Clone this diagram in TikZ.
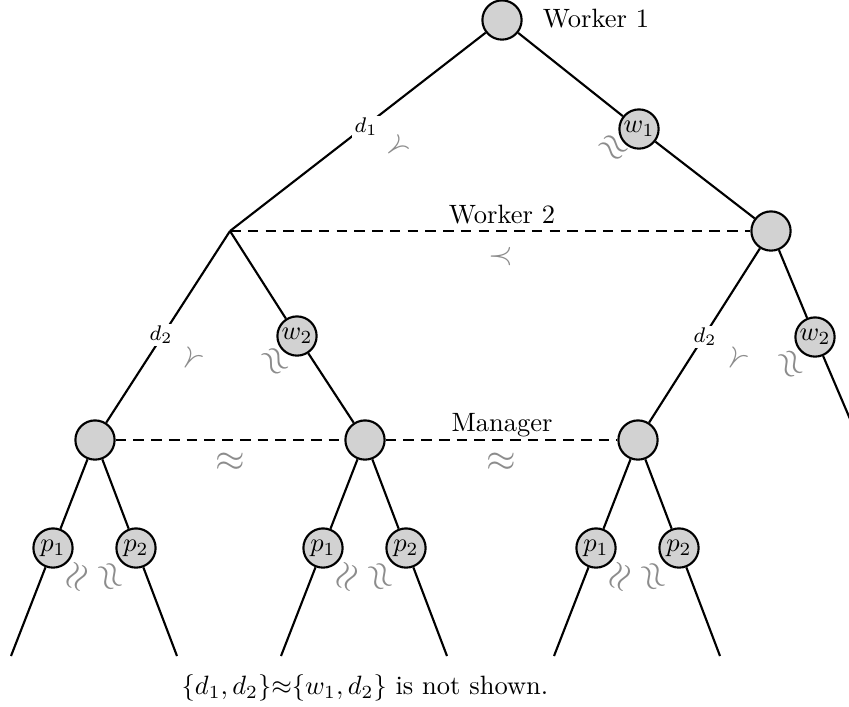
\documentclass[tikz,border=0pt]{standalone}
\usepackage{amsmath}
\begin{document}
\begin{tikzpicture}[x=0.3774pt,y=-0.3774pt,
  st/.style={circle,draw,thick,fill=gray!35,minimum size=14.8pt,inner sep=0pt},
  edge/.style={thick},
  dedge/.style={thick,dash pattern=on 4pt off 2.7pt},
  dl/.style={font=\footnotesize,fill=white,inner sep=1pt},
  lab/.style={inner sep=1pt},
  pr/.style={text=black!45,inner sep=0pt,font=\large},
  ap/.style={text=black!45,inner sep=0pt,font=\Large}]
\useasboundingbox (0,0) rectangle (849,706);
\clip (0,0) rectangle (849,706);
% nodes
\node[st] (R) at (502,20) {};
\coordinate (D) at (230,231);
\node[st] (W2) at (771,231) {};
\node[st] (M1) at (95,440) {};
\node[st] (M2) at (365,440) {};
\node[st] (M3) at (638,440) {};
\coordinate (X) at (859,440);
\node[st] (w1) at (639,129) {$w_1$};
\node[st] (w2a) at (297,336) {$w_2$};
\node[st] (w2b) at (815,337) {$w_2$};
\node[st] (p11) at (53,548) {$p_1$};
\node[st] (p12) at (136,548) {$p_2$};
\node[st] (p21) at (323,548) {$p_1$};
\node[st] (p22) at (406,548) {$p_2$};
\node[st] (p31) at (596,548) {$p_1$};
\node[st] (p32) at (679,548) {$p_2$};
\coordinate (L1) at (11,656);
\coordinate (L2) at (177,656);
\coordinate (L3) at (281,656);
\coordinate (L4) at (447,656);
\coordinate (L5) at (554,656);
\coordinate (L6) at (720,656);
% edges
\draw[edge] (R) -- (D);
\draw[edge] (R) -- (w1) -- (W2);
\draw[dedge] (D) -- (W2);
\draw[edge] (D) -- (M1);
\draw[edge] (D) -- (w2a) -- (M2);
\draw[edge] (W2) -- (M3);
\draw[edge] (W2) -- (w2b) -- (X);
\draw[dedge] (M1) -- (M2);
\draw[dedge] (M2) -- (M3);
\draw[edge] (M1) -- (p11) -- (L1);
\draw[edge] (M1) -- (p12) -- (L2);
\draw[edge] (M2) -- (p21) -- (L3);
\draw[edge] (M2) -- (p22) -- (L4);
\draw[edge] (M3) -- (p31) -- (L5);
\draw[edge] (M3) -- (p32) -- (L6);
% edge labels
\node[dl] (d1) at (366,127) {$d_1$};
\node[dl] (d2a) at (161,335) {$d_2$};
\node[dl] (d2b) at (705,337) {$d_2$};
\node[lab] (t1) at (596,19) {Worker 1};
\node[lab] (t2) at (502,215) {Worker 2};
\node[lab] (t3) at (502,425) {Manager};
% preference symbols
\node[pr,rotate=38] (s1) at (396,148) {$\prec$};
\node[ap,rotate=-38] (s2) at (613,148) {$\approx$};
\node[pr] (s3) at (501,257) {$\prec$};
\node[pr,rotate=57] (s4) at (191,360) {$\prec$};
\node[ap,rotate=-57] (s5) at (274,362) {$\approx$};
\node[pr,rotate=57] (s6) at (736,360) {$\prec$};
\node[ap,rotate=-67] (s7) at (790,365) {$\approx$};
\node[ap] (s8) at (230,462) {$\approx$};
\node[ap] (s9) at (501,462) {$\approx$};
\node[ap,rotate=69] (s10) at (78,577) {$\approx$};
\node[ap,rotate=-69] (s11) at (109,577) {$\approx$};
\node[ap,rotate=69] (s12) at (348,577) {$\approx$};
\node[ap,rotate=-69] (s13) at (379,577) {$\approx$};
\node[ap,rotate=69] (s14) at (621,577) {$\approx$};
\node[ap,rotate=-69] (s15) at (652,577) {$\approx$};
% caption
\node[lab] (cap) at (365,688) {$\{d_1,d_2\}{\approx}\{w_1,d_2\}$ is not shown.};
\end{tikzpicture}
\end{document}
